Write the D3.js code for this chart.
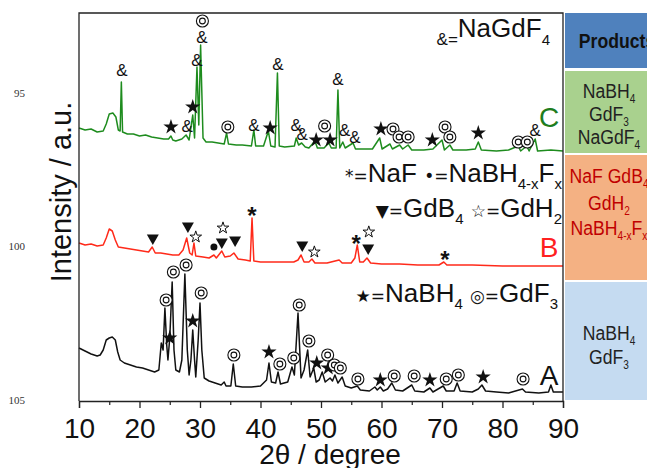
<!DOCTYPE html>
<html>
<head>
<meta charset="utf-8">
<script src="https://cdn.jsdelivr.net/npm/d3@7"></script>
<style>
body { margin: 0; background: #fff; }
text { font-family: "Liberation Sans", Arial, sans-serif; }
</style>
</head>
<body>
<script>
const width = 647;
const height = 468;

// XRD patterns: [2theta, intensity (a.u., stacked with offsets)]
const patternC = [
  [10.0, 273], [11.0, 271], [12.0, 272], [13.0, 269], [14.0, 270], [14.5, 277], [15.0, 287], [15.6, 288],
  [16.1, 284], [16.5, 271], [16.8, 270], [17.0, 319], [17.2, 269], [18.0, 267], [19.0, 267], [20.0, 265],
  [21.0, 266], [22.0, 264], [23.0, 263], [24.0, 262], [24.8, 262], [25.2, 265], [25.5, 261], [26.0, 260],
  [27.0, 262], [27.7, 266], [28.2, 261], [28.8, 286], [29.1, 263], [29.5, 334], [29.8, 276], [30.1, 356],
  [30.5, 263], [31.0, 259], [32.0, 259], [33.0, 258], [34.0, 257], [34.4, 268], [34.7, 257], [36.0, 256],
  [37.0, 256], [38.5, 255], [38.9, 271], [39.2, 255], [40.5, 255], [41.3, 270], [41.7, 255], [42.4, 254],
  [42.8, 328], [43.1, 255], [44.0, 254], [45.6, 255], [45.9, 263], [46.3, 256], [46.8, 258], [47.4, 254],
  [48.0, 253], [49.0, 260], [49.4, 253], [50.5, 253], [51.3, 258], [51.7, 253], [52.5, 253], [52.8, 311],
  [53.1, 253], [53.6, 259], [54.0, 253], [55.3, 258], [55.7, 252], [57.0, 252], [58.5, 252], [59.7, 263],
  [60.1, 252], [61.4, 257], [61.8, 252], [63.0, 256], [63.5, 252], [64.4, 256], [65.0, 251], [67.0, 251],
  [68.5, 252], [70.0, 261], [70.4, 251], [71.3, 256], [71.8, 251], [74.0, 251], [75.5, 252], [76.0, 259],
  [76.5, 251], [79.0, 250], [81.0, 251], [82.6, 255], [83.0, 250], [84.0, 255], [84.4, 250], [85.4, 262],
  [85.8, 250], [88.0, 251], [90.0, 250]
];

const patternB = [
  [10.0, 158], [11.0, 156], [12.0, 157], [13.0, 155], [14.0, 156], [14.5, 163], [15.0, 172], [15.5, 170],
  [16.0, 161], [16.5, 154], [17.5, 153], [18.5, 152], [19.5, 151], [20.5, 150], [21.5, 149], [22.1, 154],
  [22.6, 148], [23.5, 148], [24.5, 147], [25.5, 146], [26.5, 146], [27.2, 151], [27.8, 163], [28.3, 148],
  [28.7, 146], [29.0, 158], [29.3, 145], [30.5, 144], [31.5, 143], [32.3, 146], [32.7, 143], [33.6, 150],
  [34.1, 144], [35.0, 145], [35.6, 148], [36.3, 142], [37.5, 141], [38.3, 140], [38.6, 183], [38.9, 140],
  [40.0, 139], [42.0, 139], [44.0, 139], [45.5, 139], [46.2, 141], [46.7, 146], [47.2, 139], [48.0, 139],
  [48.5, 142], [49.0, 138], [51.0, 138], [53.0, 141], [53.5, 138], [55.0, 138], [55.6, 143], [56.0, 156],
  [56.4, 139], [57.0, 139], [57.6, 143], [58.2, 138], [60.0, 137], [63.0, 137], [66.0, 136], [69.5, 136],
  [70.3, 139], [70.8, 136], [75.0, 136], [80.0, 135], [85.0, 135], [90.0, 135]
];

const patternA = [
  [10.0, 53], [11.0, 50], [12.0, 47], [13.0, 45], [13.5, 46], [14.0, 51], [14.5, 61], [15.0, 63],
  [15.5, 64], [16.0, 61], [16.4, 49], [16.8, 41], [17.5, 38], [18.5, 36], [19.5, 34], [20.5, 33],
  [21.5, 31], [22.5, 29], [23.2, 31], [23.6, 58], [23.9, 51], [24.2, 93], [24.5, 56], [24.7, 41],
  [25.0, 63], [25.4, 119], [25.7, 51], [26.0, 31], [26.6, 29], [27.0, 41], [27.5, 127], [27.9, 51],
  [28.2, 26], [28.5, 41], [28.8, 71], [29.1, 41], [29.3, 24], [29.7, 61], [30.0, 98], [30.3, 51],
  [30.7, 23], [31.5, 20], [32.5, 18], [33.5, 16], [34.0, 19], [34.3, 15], [35.1, 15], [35.5, 37],
  [35.9, 15], [37.0, 14], [38.5, 14], [40.0, 15], [41.0, 21], [41.4, 38], [41.8, 19], [42.5, 18],
  [42.9, 29], [43.3, 17], [44.5, 19], [45.2, 34], [45.6, 26], [46.2, 88], [46.7, 23], [47.2, 31],
  [47.8, 51], [48.2, 24], [48.8, 33], [49.2, 19], [49.7, 21], [50.2, 29], [50.7, 19], [51.5, 23],
  [51.9, 20], [52.3, 26], [52.8, 18], [53.5, 24], [54.0, 15], [55.0, 13], [56.0, 15], [56.5, 11],
  [58.0, 10], [58.9, 14], [59.3, 11], [59.8, 14], [60.3, 10], [61.0, 12], [61.7, 18], [62.3, 11],
  [63.5, 10], [65.0, 16], [65.5, 10], [67.0, 9], [68.0, 13], [68.5, 9], [70.2, 15], [70.7, 10],
  [72.0, 10], [72.5, 18], [73.0, 10], [75.0, 9], [76.0, 12], [76.6, 16], [77.2, 10], [79.0, 9],
  [81.0, 8], [83.3, 12], [83.8, 9], [86.0, 8], [87.6, 9], [88.0, 16], [88.4, 9], [90.0, 9]
];

// phase markers: [symbol, 2theta, intensity]
const peaksC = [
  ['&', 17.1, 331], ['◎', 30.4, 380], ['&', 30.3, 364], ['&', 29.5, 341], ['★', 28.8, 294],
  ['★', 25.2, 274], ['&', 27.9, 275], ['◎', 34.6, 274], ['&', 38.9, 276], ['★', 41.6, 273],
  ['&', 42.9, 337], ['&', 45.9, 276], ['&', 46.9, 267], ['★', 49.2, 261], ['◎', 50.6, 275],
  ['★', 51.5, 261], ['&', 52.8, 322], ['&', 53.9, 271], ['&', 55.6, 264], ['★', 59.9, 272],
  ['◎', 61.9, 272], ['◎', 62.9, 264], ['◎', 64.4, 264], ['★', 68.4, 261], ['◎', 70.5, 274],
  ['◎', 71.3, 264], ['★', 76.0, 268], ['◎', 82.6, 259], ['◎', 84.1, 259], ['&', 85.4, 271]
];
const peaksB = [
  ['▼', 22.2, 163], ['▼', 28.0, 175], ['☆', 29.3, 164], ['●', 32.3, 154], ['☆', 33.8, 173],
  ['▼', 33.6, 159], ['▼', 35.8, 161], ['*', 38.6, 190], ['▼', 46.9, 156], ['☆', 48.9, 149],
  ['*', 55.8, 162], ['☆', 57.9, 169], ['▼', 57.8, 153], ['*', 70.5, 146]
];
const peaksA = [
  ['◎', 24.4, 101], ['◎', 25.6, 129], ['◎', 27.7, 136], ['◎', 30.2, 108], ['★', 25.0, 63],
  ['★', 28.8, 80], ['◎', 35.6, 46], ['★', 41.4, 49], ['◎', 43.2, 37], ['◎', 45.5, 43],
  ['◎', 46.4, 96], ['◎', 48.0, 60], ['★', 49.3, 38], ['★', 51.2, 33], ['◎', 51.1, 46],
  ['◎', 52.2, 36], ['◎', 53.2, 33], ['◎', 56.1, 22], ['★', 59.8, 21], ['◎', 62.1, 25],
  ['◎', 65.4, 25], ['★', 68.0, 21], ['◎', 70.7, 22], ['◎', 72.7, 26], ['★', 76.8, 24],
  ['◎', 83.4, 22]
];

const xTicks = [10, 20, 30, 40, 50, 60, 70, 80, 90];
const xMinorTicks = [15, 25, 35, 45, 55, 65, 75, 85];
const sampleLabels = ['C', 'B', 'A'];

// legend lines: [text, kind] with kind 's' = symbol, 'm' = main, 'b' = subscript, 'a' = small symbol on sub line
const legend1 = [['&=', 'a'], ['NaGdF', 'm'], ['4', 'b']];
const legend2 = [['*=', 's'], ['NaF ', 'm'], ['•=', 's'], ['NaBH', 'm'], ['4-x', 'b'], ['F', 'm'], ['x', 'b']];
const legend3 = [['▼=', 's'], ['GdB', 'm'], ['4', 'b'], [' ', 'm'], ['☆=', 's'], ['GdH', 'm'], ['2', 'b']];
const legend4 = [['★=', 's'], ['NaBH', 'm'], ['4', 'b'], [' ', 'm'], ['◎=', 's'], ['GdF', 'm'], ['3', 'b']];

// products table
const tableHeader = 'Products';
const productsC = [[['NaBH', 'm'], ['4', 'b']], [['GdF', 'm'], ['3', 'b']], [['NaGdF', 'm'], ['4', 'b']]];
const productsB = [[['NaF  GdB', 'm'], ['4', 'b']], [['GdH', 'm'], ['2', 'b']], [['NaBH', 'm'], ['4-x', 'b'], ['F', 'm'], ['x', 'b']]];
const productsA = [[['NaBH', 'm'], ['4', 'b']], [['GdF', 'm'], ['3', 'b']]];

const pageNumbers = ['95', '100', '105'];

const svg = d3.select('body').append('svg').attr('width', width).attr('height', height);

const x = d3.scaleLinear().domain([10, 90]).range([79, 563]);
const y = d3.scaleLinear().domain([0, 388]).range([401, 13]);

// margin line numbers
svg.selectAll('.pn').data(pageNumbers).enter().append('text')
  .attr('x', 25).attr('y', (d, i) => [97, 250, 404][i])
  .attr('text-anchor', 'end')
  .style('font-family', '"Liberation Serif", serif')
  .style('font-size', '11px').attr('fill', '#333')
  .text(d => d);

// products table
const colX = 565, colW = 100, colMid = 609, narrow = 0.84;
const cells = [
  { y0: 13, y1: 68, fill: '#4f81bd' },
  { y0: 71, y1: 153, fill: '#a9d18e' },
  { y0: 155, y1: 280, fill: '#f4b183' },
  { y0: 282, y1: 400, fill: '#c5dbf1' }
];
svg.selectAll('.cell').data(cells).enter().append('rect')
  .attr('x', colX).attr('y', d => d.y0).attr('width', colW).attr('height', d => d.y1 - d.y0)
  .attr('fill', d => d.fill);

function rich(g, parts, sizes, subShift) {
  let shift = 0;
  parts.forEach(p => {
    const want = p[1] === 'b' ? subShift : 0;
    g.append('tspan')
      .attr('dy', want - shift)
      .style('font-size', sizes[p[1]] + 'px')
      .text(p[0]);
    shift = want;
  });
}

svg.append('text').attr('transform', `translate(${colMid + 8},48) scale(${narrow},1)`).attr('text-anchor', 'middle')
  .style('font-size', '21px').style('font-weight', 'bold')
  .attr('fill', '#111').text(tableHeader);

function tableBlock(lines, baselines, color) {
  lines.forEach((line, i) => {
    const t = svg.append('text').attr('transform', `translate(${colMid},${baselines[i]}) scale(${narrow},1)`)
      .attr('text-anchor', 'middle').attr('fill', color);
    rich(t, line, { m: 21, b: 12 }, 5);
  });
}
tableBlock(productsC, [98, 121, 144], '#222');
tableBlock(productsB, [183, 210, 235], '#c00000');
tableBlock(productsA, [340, 364], '#222');

// curves
const line = d3.line().x(d => x(d[0])).y(d => y(d[1]));
const curves = [
  { data: patternA, color: '#111111' },
  { data: patternB, color: '#ff2a1a' },
  { data: patternC, color: '#1e8c1e' }
];
svg.selectAll('.curve').data(curves).enter().append('path')
  .attr('d', d => line(d.data))
  .attr('fill', 'none').attr('stroke', d => d.color).attr('stroke-width', 1.5)
  .attr('stroke-linejoin', 'round');

// markers
const gm = svg.append('g');
function marker(d) {
  const cx = x(d[1]), cy = y(d[2]);
  const s = d[0];
  if (s === '&') {
    gm.append('text').attr('x', cx).attr('y', cy + 6).attr('text-anchor', 'middle')
      .style('font-size', '17px').attr('fill', '#111').text('&');
  } else if (s === '*') {
    gm.append('text').attr('x', cx).attr('y', cy + 13).attr('text-anchor', 'middle')
      .style('font-size', '24px').style('font-weight', 'bold').attr('fill', '#111').text('*');
  } else if (s === '★') {
    gm.append('path').attr('d', d3.symbol(d3.symbolStar, 72)())
      .attr('transform', `translate(${cx},${cy})`).attr('fill', '#111');
  } else if (s === '☆') {
    gm.append('path').attr('d', d3.symbol(d3.symbolStar, 42)())
      .attr('transform', `translate(${cx},${cy})`).attr('fill', '#fff').attr('stroke', '#111').attr('stroke-width', 1);
  } else if (s === '▼') {
    gm.append('path').attr('d', d3.symbol(d3.symbolTriangle, 62)())
      .attr('transform', `translate(${cx},${cy}) rotate(180)`).attr('fill', '#111');
  } else if (s === '●') {
    gm.append('circle').attr('cx', cx).attr('cy', cy).attr('r', 3.5).attr('fill', '#111');
  } else if (s === '◎') {
    gm.append('circle').attr('cx', cx).attr('cy', cy).attr('r', 6)
      .attr('fill', '#fff').attr('stroke', '#111').attr('stroke-width', 1.1);
    gm.append('circle').attr('cx', cx).attr('cy', cy).attr('r', 2.9)
      .attr('fill', 'none').attr('stroke', '#111').attr('stroke-width', 1.1);
  }
}
peaksC.concat(peaksB, peaksA).forEach(marker);

// sample labels
const labelPos = [[127, '#1e7d1e'], [257, '#ff2020'], [385, '#111']];
svg.selectAll('.lab').data(sampleLabels).enter().append('text')
  .attr('x', 549).attr('y', (d, i) => labelPos[i][0]).attr('text-anchor', 'middle')
  .style('font-size', '28px').attr('fill', (d, i) => labelPos[i][1]).text(d => d);

// legends
const legends = [[legend1, 550, 37, 8], [legend2, 562, 182, 7], [legend3, 562, 217, 7], [legend4, 558, 302, 7]];
legends.forEach(l => {
  const t = svg.append('text').attr('x', l[1]).attr('y', l[2]).attr('text-anchor', 'end').attr('fill', '#111');
  let shift = 0;
  l[0].forEach(p => {
    const want = (p[1] === 'b' || p[1] === 'a') ? l[3] : 0;
    const ts = t.append('tspan').attr('dy', want - shift).text(p[0]);
    if (p[1] === 's') ts.style('font-size', '17px').style('font-family', '"DejaVu Sans", sans-serif');
    else if (p[1] === 'a') ts.style('font-size', '17px');
    else if (p[1] === 'b') ts.style('font-size', '15px');
    else ts.style('font-size', '26px');
    shift = want;
  });
});

// frame
svg.append('path')
  .attr('d', `M${x(10)},${y(0)}V${y(388)}H${x(90)}V${y(0)}`)
  .attr('fill', 'none').attr('stroke', '#222').attr('stroke-width', 1.3);

// x axis
const xAxis = svg.append('g').attr('transform', `translate(0,${y(0)})`)
  .call(d3.axisBottom(x).tickValues(xTicks).tickSize(7).tickPadding(10).tickFormat(d3.format('d')));
xAxis.select('.domain').attr('stroke', '#222').attr('stroke-width', 1.3);
xAxis.selectAll('.tick line').attr('stroke', '#222').attr('stroke-width', 1.3);
xAxis.selectAll('.tick text').style('font-size', '28px').style('font-family', '"Liberation Sans", Arial, sans-serif').attr('fill', '#111');

const xMinor = svg.append('g').attr('transform', `translate(0,${y(0)})`)
  .call(d3.axisBottom(x).tickValues(xMinorTicks).tickSize(4).tickFormat(''));
xMinor.select('.domain').remove();
xMinor.selectAll('.tick line').attr('stroke', '#222').attr('stroke-width', 1.2);

// axis titles
svg.append('text').attr('x', 330).attr('y', 464).attr('text-anchor', 'middle')
  .style('font-size', '28px').attr('fill', '#111').text('2θ / degree');
svg.append('text').attr('transform', 'translate(71,192) rotate(-90)').attr('text-anchor', 'middle')
  .style('font-size', '29px').attr('fill', '#111').text('Intensity / a.u.');
</script>
</body>
</html>
